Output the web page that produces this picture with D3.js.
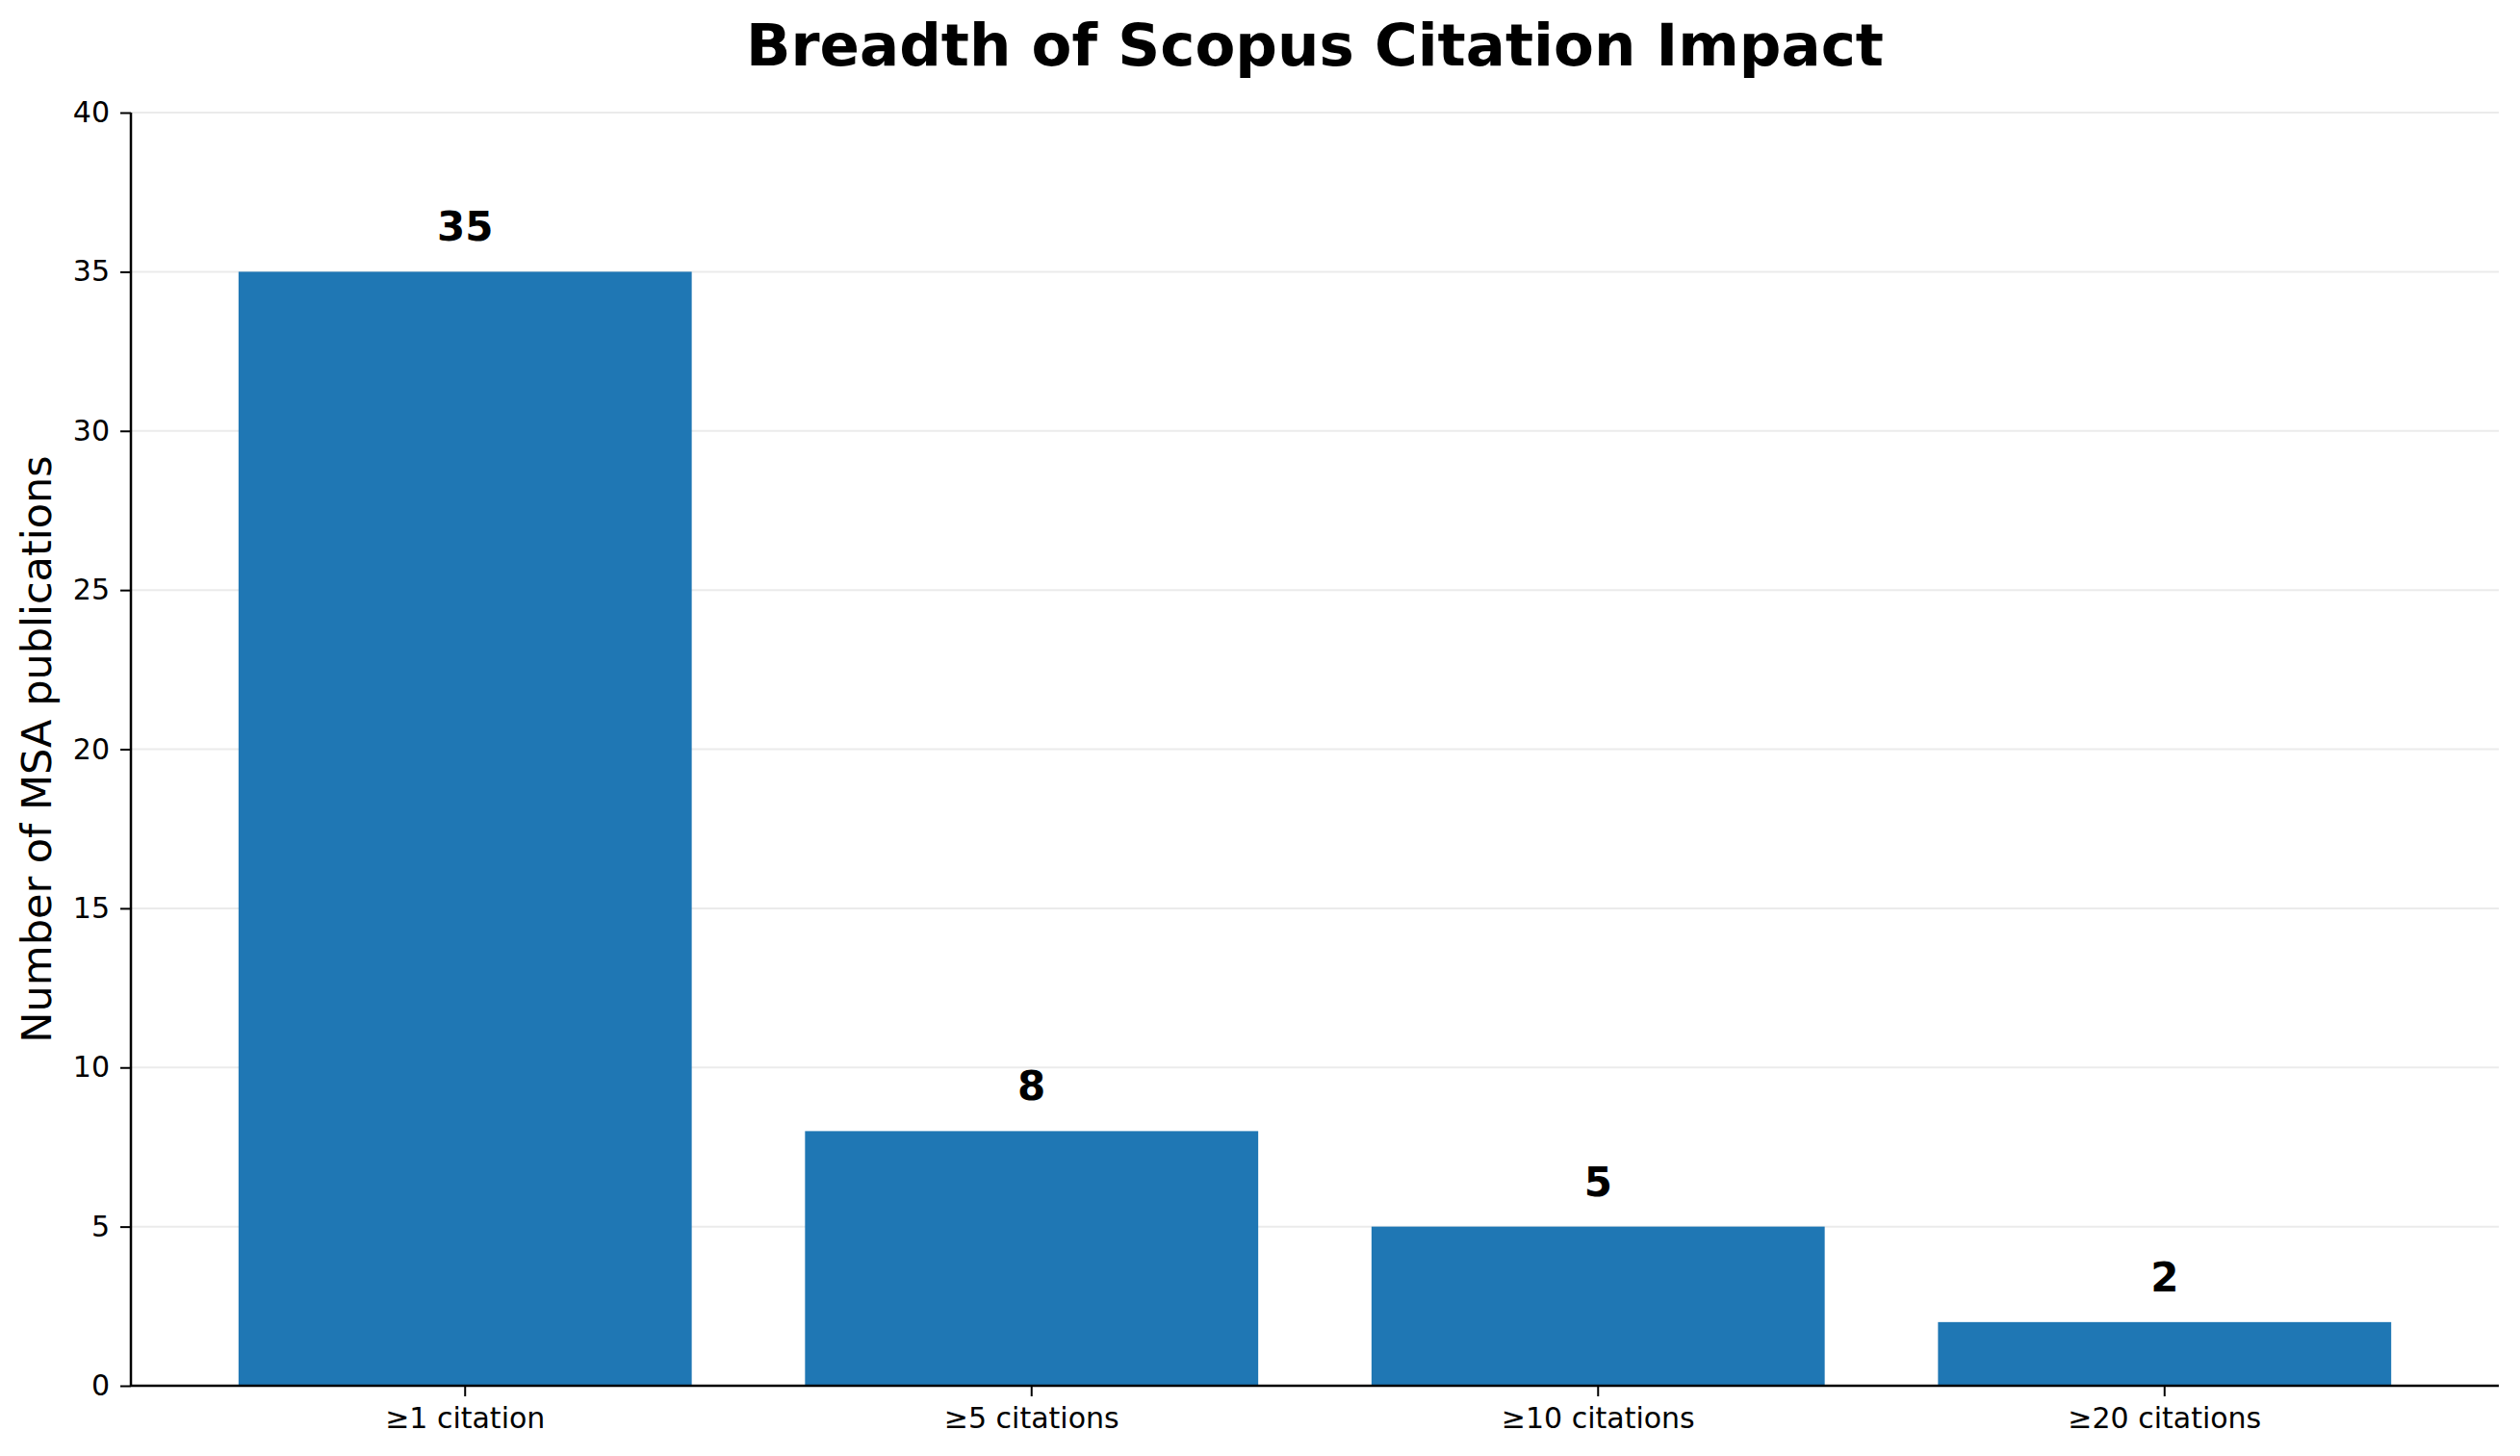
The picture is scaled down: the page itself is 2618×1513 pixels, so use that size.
<!DOCTYPE html>
<html>
<head>
<meta charset="utf-8">
<script src="https://cdn.jsdelivr.net/npm/d3@7"></script>
<style>
  body { margin: 0; background: #fff; }
  svg { display: block; font-family: "DejaVu Sans", sans-serif; }
</style>
</head>
<body>
<script>
// chart values
var categories = ["≥1 citation", "≥5 citations", "≥10 citations", "≥20 citations"]
var counts = [35, 8, 5, 2]
var yTicks = [0, 5, 10, 15, 20, 25, 30, 35, 40]

var W = 2618, H = 1513
// plot box (note: "top" is taken by window.top, so prefixed names)
var plotLeft = 136, plotRight = 2596, plotTop = 117, plotBottom = 1440

var svg = d3.select("body").append("svg")
    .attr("width", W)
    .attr("height", H)

var x = d3.scaleBand()
    .domain(categories)
    .range([plotLeft, plotRight])
    .paddingInner(0.2)
    .paddingOuter(0.19)

var y = d3.scaleLinear()
    .domain([0, 40])
    .range([plotBottom, plotTop])

// grid
svg.append("g").selectAll("line")
    .data(yTicks.filter(function(d) { return d > 0 }))
    .enter().append("line")
    .attr("x1", plotLeft)
    .attr("x2", plotRight)
    .attr("y1", function(d) { return y(d) })
    .attr("y2", function(d) { return y(d) })
    .style("stroke", "#ebebeb")
    .style("stroke-width", 2)

// bars
svg.append("g").selectAll("rect")
    .data(counts)
    .enter().append("rect")
    .attr("x", function(d, i) { return x(categories[i]) })
    .attr("width", x.bandwidth())
    .attr("y", function(d) { return y(d) })
    .attr("height", function(d) { return plotBottom - y(d) })
    .style("fill", "#1f77b4")

// value labels
svg.append("g").selectAll("text")
    .data(counts)
    .enter().append("text")
    .attr("x", function(d, i) { return x(categories[i]) + x.bandwidth() / 2 })
    .attr("y", function(d) { return y(d) - 32 })
    .attr("text-anchor", "middle")
    .style("font-size", "42px")
    .style("font-weight", "bold")
    .text(function(d) { return d })

// axes
var yAxis = d3.axisLeft(y).tickValues(yTicks).tickSize(11).tickPadding(11)
var xAxis = d3.axisBottom(x).tickSize(11).tickPadding(12)

var gy = svg.append("g")
    .attr("transform", "translate(" + plotLeft + ",0)")
    .call(yAxis)
gy.select(".domain").attr("d", "M0," + plotTop + "V" + plotBottom)

var gx = svg.append("g")
    .attr("transform", "translate(0," + plotBottom + ")")
    .call(xAxis)
gx.select(".domain").attr("d", "M" + plotLeft + ",0H" + plotRight)

svg.selectAll(".domain").style("stroke", "#000").style("stroke-width", 2.5)
svg.selectAll(".tick line").style("stroke", "#000").style("stroke-width", 2)
svg.selectAll(".tick text")
    .style("font-size", "30px")
    .style("font-family", "DejaVu Sans, sans-serif")
    .style("fill", "#000")

// titles
svg.append("text")
    .attr("x", (plotLeft + plotRight) / 2)
    .attr("y", 68)
    .attr("text-anchor", "middle")
    .style("font-size", "61px")
    .style("font-weight", "bold")
    .text("Breadth of Scopus Citation Impact")

svg.append("text")
    .attr("transform", "translate(53," + (plotTop + plotBottom) / 2 + ") rotate(-90)")
    .attr("text-anchor", "middle")
    .style("font-size", "43px")
    .text("Number of MSA publications")
</script>
</body>
</html>
